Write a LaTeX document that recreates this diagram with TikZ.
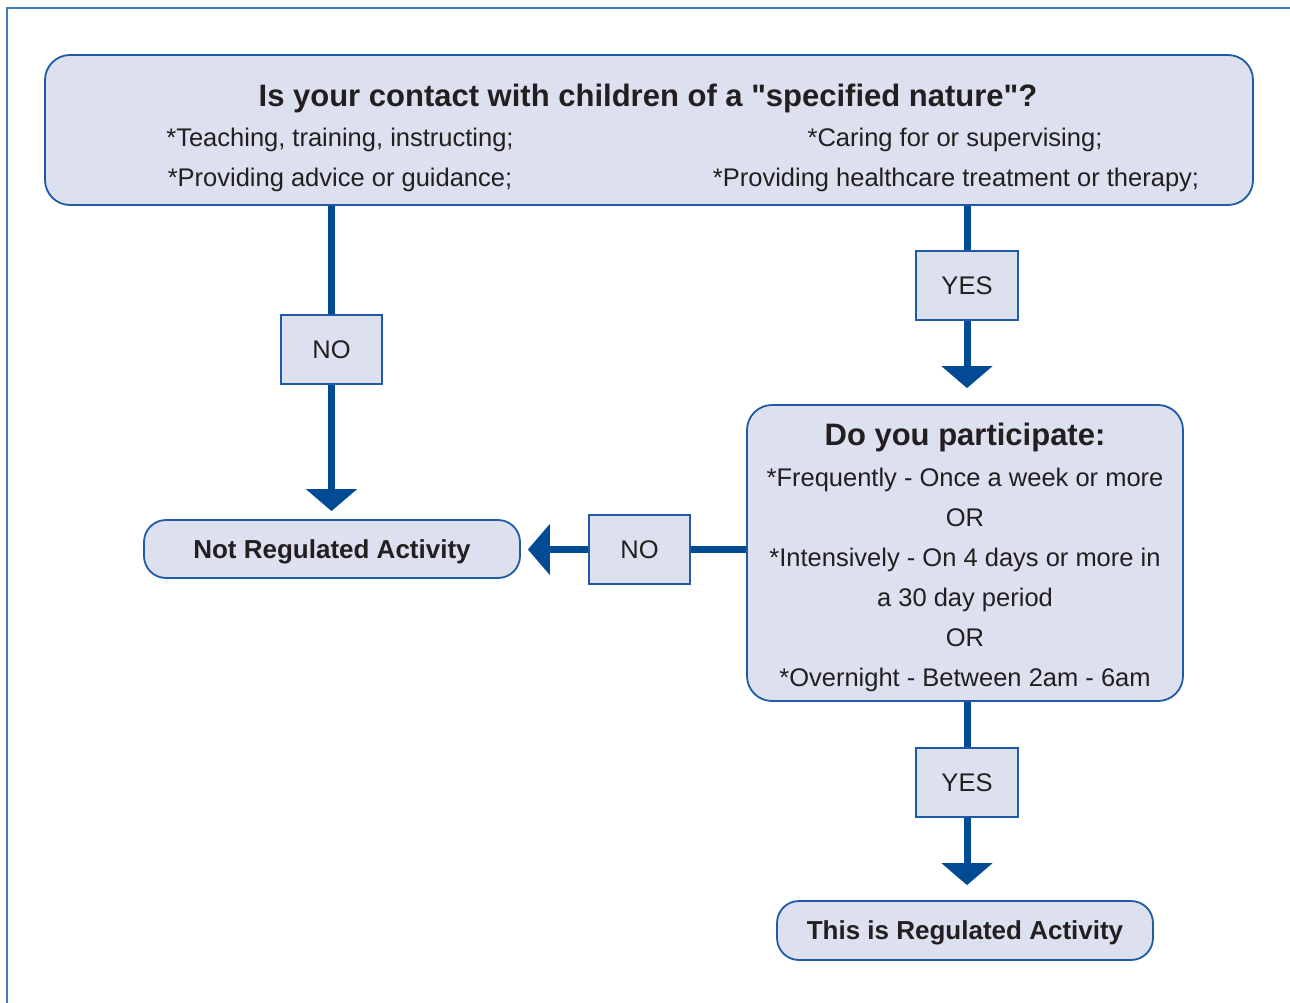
\documentclass[tikz,border=0pt]{standalone}
\usepackage{fontspec}
\setmainfont{Liberation Sans}
\usetikzlibrary{arrows.meta}
\definecolor{boxfill}{RGB}{220,224,239}
\definecolor{boxline}{RGB}{30,90,165}
\definecolor{arrowblue}{RGB}{0,75,147}
\definecolor{framec}{RGB}{65,125,190}
\definecolor{txt}{RGB}{35,31,32}
\newcommand{\regf}{\fontsize{25.5}{30}\selectfont}
\newcommand{\bigbf}{\fontsize{31}{36}\selectfont\bfseries}
\newcommand{\midbf}{\fontsize{26}{30}\selectfont\bfseries}
\begin{document}
\begin{tikzpicture}[x=1pt,y=-1pt,
  box/.style={draw=boxline, line width=1.8pt, fill=boxfill, rounded corners=25pt, inner sep=0pt},
  endbox/.style={box, rounded corners=22pt, font=\midbf, text=txt, text height=18.6pt, text depth=0pt},
  lab/.style={draw=boxline, line width=1.2pt, fill=boxfill, minimum width=101pt, minimum height=69pt, inner sep=0pt, font=\regf, text=txt, text height=18.3pt, text depth=0pt},
  tline/.style={anchor=base, text=txt, inner sep=0pt, font=\regf},
  ttitle/.style={tline, font=\bigbf},
  conn/.style={draw=arrowblue, line width=7pt},
  arr/.style={conn, -{Triangle[width=50pt,length=22pt]}}]
\useasboundingbox (0,0) rectangle (1290,1003);
\draw[framec, line width=1.8pt] (7,1010) -- (7,8) -- (1300,8);

% boxes
\node[box, minimum width=1208pt, minimum height=150pt] (top) at (649,130) {};
\node[box, minimum width=436pt, minimum height=296pt] (box2) at (965,553) {};
\node[endbox, minimum width=376pt, minimum height=58pt] (notreg) at (332,549) {Not Regulated Activity};
\node[endbox, minimum width=376pt, minimum height=59pt] (reg) at (965,930.5) {This is Regulated Activity};

% texts in top box
\node[ttitle] (t0) at (648,107) {Is your contact with children of a \textquotedbl specified nature\textquotedbl?};
\node[tline] (t1) at (340,147) {*Teaching, training, instructing;};
\node[tline] (t2) at (340,187) {*Providing advice or guidance;};
\node[tline] (t3) at (955,147) {*Caring for or supervising;};
\node[tline] (t4) at (956,187) {*Providing healthcare treatment or therapy;};

% texts in second box
\node[ttitle] (p0) at (965,445) {Do you participate:};
\node[tline] (p1) at (965,486) {*Frequently - Once a week or more};
\node[tline] (p2) at (965,526) {OR};
\node[tline] (p3) at (965,566) {*Intensively - On 4 days or more in};
\node[tline] (p4) at (965,606) {a 30 day period};
\node[tline] (p5) at (965,646) {OR};
\node[tline] (p6) at (965,686) {*Overnight - Between 2am - 6am};

% label boxes
\node[lab] (no1) at (331.5,349.5) {NO};
\node[lab, minimum width=102pt] (yes1) at (967,285.5) {YES};
\node[lab] (noh) at (639.5,549.5) {NO};
\node[lab, minimum width=102pt] (yes2) at (967,782.5) {YES};

% connectors
\draw[conn] (top.south -| no1) -- (no1.north);
\draw[arr, shorten >=8pt] (no1.south) -- (no1.south |- notreg.north);
\draw[conn] (top.south -| yes1) -- (yes1.north);
\draw[arr, shorten >=16pt] (yes1.south) -- (yes1.south |- box2.north);
\draw[conn] (box2.south -| yes2) -- (yes2.north);
\draw[arr, shorten >=15pt] (yes2.south) -- (yes2.south |- reg.north);
\draw[conn] (box2.west |- noh) -- (noh.east);
\draw[arr, shorten >=7pt] (noh.west) -- (noh.west -| notreg.east);
\end{tikzpicture}
\end{document}
